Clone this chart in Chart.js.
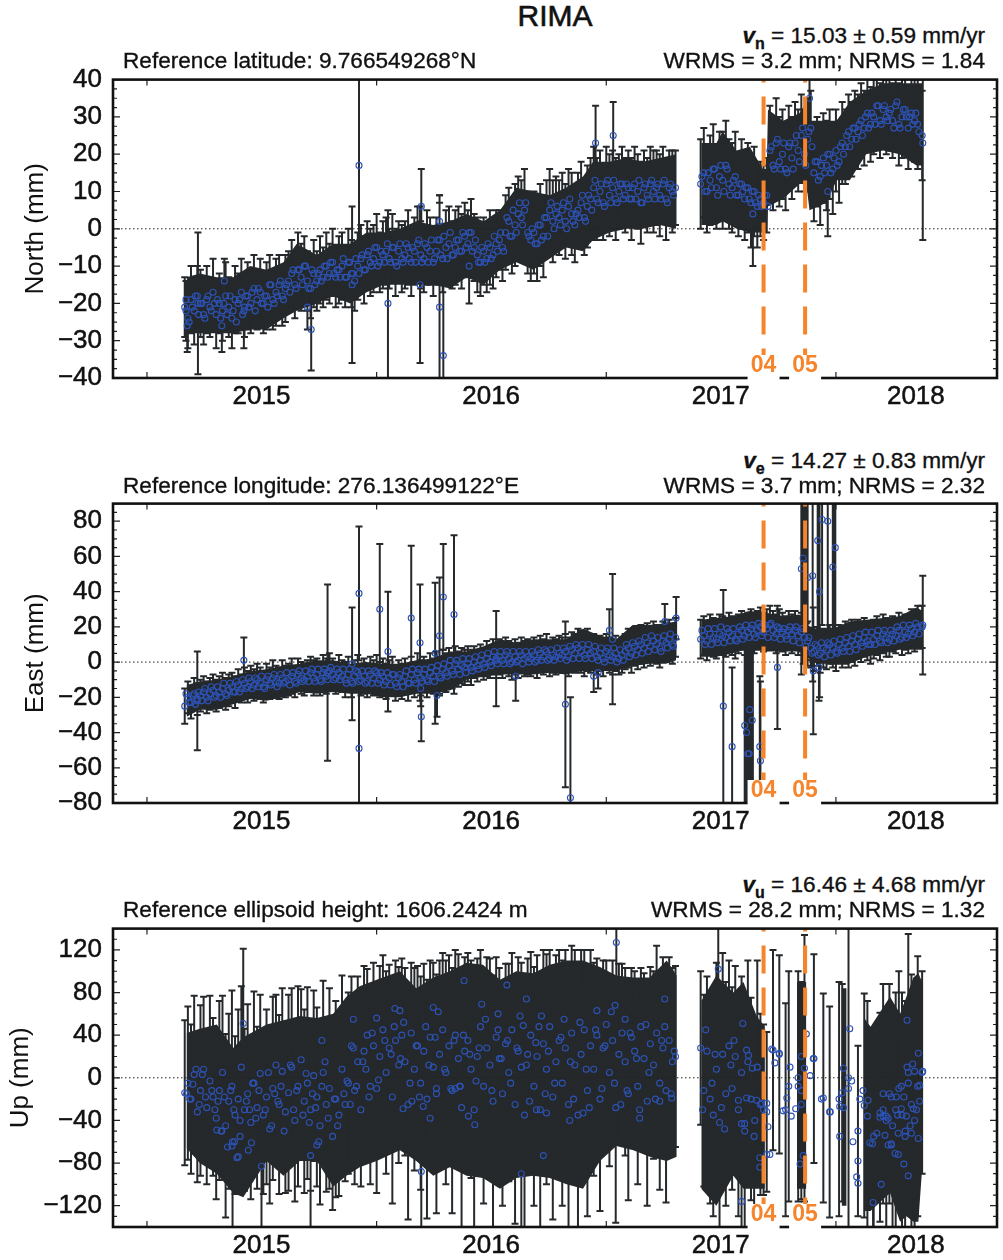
<!DOCTYPE html>
<html>
<head>
<meta charset="utf-8">
<script src="https://cdn.jsdelivr.net/npm/chart.js@4"></script>
<style>
body{margin:0;background:#fff;font-family:"Liberation Sans",Arial,sans-serif;color:#111}
#page{position:relative;width:1003px;height:1260px;overflow:hidden}
canvas{position:absolute;left:0}
.t{position:absolute;font-size:22.6px;white-space:nowrap;-webkit-text-stroke:.35px #111;line-height:24px;z-index:2}
.r{right:18px;text-align:right}
.t sub{font-size:16px;line-height:0;font-weight:bold}
#title{position:absolute;left:0;width:1110px;text-align:center;top:0;font-size:30px;line-height:32px;-webkit-text-stroke:.6px #111}
</style>
</head>
<body>
<div id="page">
<div id="title">RIMA</div>
<div class="t" style="left:123px;top:49px">Reference latitude: 9.766549268°N</div>
<div class="t r" style="top:24px"><i><b>v</b></i><sub>n</sub> = 15.03 ± 0.59 mm/yr</div>
<div class="t r" style="top:49px">WRMS = 3.2 mm; NRMS = 1.84</div>
<div class="t" style="left:123px;top:474px">Reference longitude: 276.136499122°E</div>
<div class="t r" style="top:449px"><i><b>v</b></i><sub>e</sub> = 14.27 ± 0.83 mm/yr</div>
<div class="t r" style="top:474px">WRMS = 3.7 mm; NRMS = 2.32</div>
<div class="t" style="left:123px;top:898px">Reference ellipsoid height: 1606.2424 m</div>
<div class="t r" style="top:873px"><i><b>v</b></i><sub>u</sub> = 16.46 ± 4.68 mm/yr</div>
<div class="t r" style="top:898px">WRMS = 28.2 mm; NRMS = 1.32</div>
<canvas id="north" width="1003" height="358" style="top:53px"></canvas>
<canvas id="east" width="1003" height="359" style="top:477px"></canvas>
<canvas id="up" width="1003" height="358" style="top:902px"></canvas>
</div>
<script>
// x values are days since the 2015 tick
const xMin = -54, xMax = 1351
const yearStarts = [0,365,730,1095]
const yearLabelDays = [182,547,912,1222]
const yearLabels = ['2015','2016','2017','2018']
const eventDays = [980,1046]
const eventLabels = ['04','05']

const northTicks = [-40,-30,-20,-10,0,10,20,30,40]
const eastTicks = [-80,-60,-40,-20,0,20,40,60,80]
const upTicks = [-120,-80,-40,0,40,80,120]

const epochs = [
60,65,70,75,80,85,90,95,100,105,
110,115,120,125,130,135,140,145,150,155,
160,165,170,175,180,185,190,195,200,205,
210,215,220,225,230,235,240,245,250,255,
260,265,270,275,280,285,290,295,300,305,
310,315,320,325,330,335,340,345,350,355,
360,365,370,375,380,385,390,395,400,405,
410,415,420,425,430,435,440,445,450,455,
460,465,470,475,480,485,490,495,500,505,
510,515,520,525,530,535,540,545,550,555,
560,565,570,575,580,585,590,595,600,605,
610,615,620,625,630,635,640,645,650,655,
660,665,670,675,680,685,690,695,700,705,
710,715,720,725,730,735,740,745,750,755,
760,765,770,775,780,785,790,795,800,805,
810,815,820,825,830,835,840,
880,885,890,895,900,905,910,915,920,925,
930,935,940,945,950,955,960,965,970,975,
980,985,990,995,1000,1005,1010,1015,1020,1025,
1030,1035,1040,1045,1050,1055,1060,1065,1070,1075,
1080,1085,1090,1095,1100,1105,1110,1115,1120,1125,
1130,1135,1140,1145,1150,1155,1160,1165,1170,1175,
1180,1185,1190,1195,1200,1205,1210,1215,1220,1225,
1232]

const northVals = [
-21,-24,-19,-22,-18,-20,-23,-19,-21,-17,
-23,-20,-22,-18,-21,-24,-19,-20,-17,-21,
-18,-20,-16,-19,-17,-20,-18,-15,-19,-17,
-15,-18,-16,-14,-12,-15,-11,-13,-10,-14,
-16,-12,-14,-11,-13,-10,-12,-9,-13,-11,
-10,-13,-9,-12,-14,-10,-8,-11,-7,-9,
-8,-5,-9,-7,-6,-8,-5,-9,-6,-8,
-7,-5,-9,-6,-4,-7,-8,-5,-6,-9,
-6,-3,-8,-5,-4,-7,-5,-3,-6,-2,
-4,-1,-5,-7,-9,-6,-8,-5,-7,-4,
-3,-5,-1,2,-2,1,4,3,5,-1,
-3,-1,-4,1,-2,3,5,2,4,3,
5,2,6,4,1,5,7,3,6,8,
11,8,10,7,12,9,11,8,10,12,
9,11,8,12,10,7,11,9,12,10,
11,9,12,8,11,10,11,
12,15,10,13,16,11,14,13,17,12,
11,14,9,12,8,11,7,10,6,8,
7,9,21,17,23,18,20,16,22,19,
23,21,25,20,24,27,15,18,14,19,
17,20,16,21,18,23,22,26,24,27,
26,29,27,31,28,30,33,29,32,30,
31,29,33,28,30,32,27,31,29,28,
25]
const northErrs = [
8,8,9,9,8,9,8,9,8,9,
9,8,8,9,8,8,9,8,9,8,
9,8,9,8,9,8,9,8,8,9,
8,8,9,8,9,9,10,9,8,8,
8,9,8,9,8,9,8,9,8,9,
9,8,9,9,8,9,9,9,9,9,
9,9,8,9,9,8,9,9,8,9,
9,10,9,9,10,9,9,10,9,9,
9,10,9,10,10,9,10,9,10,9,
9,9,9,10,9,9,9,10,9,9,
8,9,10,9,10,11,10,10,11,11,
11,11,10,11,11,10,11,11,10,10,
10,10,10,11,10,10,11,10,11,11,
11,11,11,10,10,11,10,11,10,10,
10,10,11,10,10,11,10,10,10,11,
10,11,10,11,10,11,10,
12,12,11,12,12,11,12,13,12,12,
12,12,11,12,11,12,12,12,11,10,
10,10,12,12,12,12,12,11,11,11,
11,11,11,10,11,10,13,12,13,12,
12,12,12,11,11,11,10,10,10,10,
10,10,10,10,10,10,10,10,10,10,
10,10,10,11,11,11,11,11,11,12,
12]

const eastVals = [
-25,-20,-23,-18,-21,-19,-17,-20,-18,-16,
-19,-17,-15,-18,-16,-14,-17,-13,-15,-12,
-14,-11,-13,-10,-12,-14,-10,-12,-9,-11,
-12,-9,-11,-10,-8,-11,-7,-9,-10,-8,
-6,-9,-7,-10,-6,-8,-5,-7,-9,-6,
-8,-10,-7,-11,-8,-6,-10,-8,-11,-7,
-9,-6,-10,-8,-11,-9,-7,-12,-9,-11,
-8,-12,-7,-10,-6,-9,-7,-10,-6,-8,
-5,-8,-4,-6,-2,-5,-1,-4,-2,-3,
-1,-3,0,-2,1,-1,2,0,3,1,
3,1,4,2,0,3,1,4,2,3,
2,4,1,5,3,6,2,4,3,5,
4,6,3,7,5,8,6,4,7,5,
6,3,5,2,6,4,3,5,2,4,
6,8,5,9,7,10,8,11,9,12,
10,8,12,11,13,10,14,
13,15,12,16,14,13,16,15,14,17,
15,13,16,18,15,17,19,16,18,20,
17,19,21,18,16,19,17,15,18,16,
18,15,17,14,12,8,6,9,5,8,
7,10,8,6,10,8,11,9,12,10,
13,11,14,12,10,13,15,12,16,14,
13,16,15,18,14,17,16,19,17,20,
20]
const eastErrs = [
10,9,9,9,9,9,9,9,9,9,
9,9,9,9,9,8,9,9,8,9,
9,9,9,9,9,9,9,9,10,9,
9,10,9,9,10,9,9,9,9,9,
9,10,9,9,10,10,10,9,9,10,
9,10,10,9,9,10,9,10,9,10,
10,10,10,10,10,10,10,10,10,10,
10,10,10,10,11,10,10,10,11,10,
11,11,11,11,10,10,10,10,10,10,
10,10,9,9,9,9,10,9,10,10,
10,10,10,10,10,10,10,10,10,10,
10,10,10,10,10,10,10,10,10,10,
10,10,11,10,11,11,12,12,12,11,
10,10,10,10,10,10,10,10,9,10,
10,11,11,11,11,11,11,11,11,11,
11,11,11,11,11,11,11,
11,11,11,11,11,11,11,11,11,11,
11,11,11,11,11,11,11,11,11,11,
11,11,11,11,11,11,11,11,11,11,
11,11,11,11,11,11,11,11,11,11,
11,11,11,11,11,11,12,12,12,12,
11,11,11,11,11,11,11,11,11,11,
10,10,10,10,10,10,11,11,11,12,
12]

const upVals = [
-14,-5,-20,3,-32,-12,8,-28,-3,-18,
-38,-12,5,-45,-22,-8,-35,-20,10,-30,
-15,-42,-5,-28,4,-35,-18,-48,-10,12,
-25,6,-32,-14,10,-40,-8,17,-22,-5,
-30,2,-18,-45,5,-25,-10,-55,-20,-35,
8,-25,-5,30,-12,15,-30,25,40,-8,
30,-10,20,45,5,28,-18,35,12,40,
15,-25,42,8,30,-5,25,-20,38,10,
-15,22,45,5,30,-12,40,18,-28,25,
35,8,-30,20,48,-8,28,12,-22,38,
18,-15,32,5,45,-25,25,10,-35,22,
40,-8,20,-30,32,8,48,-18,15,35,
-5,28,-25,42,12,-35,22,45,-12,30,
8,40,-20,28,50,5,35,-28,22,42,
15,-15,38,25,-8,48,18,-22,32,12,
42,-5,28,-12,35,15,20,
28,-12,25,-20,-35,8,-42,22,-15,30,
-10,20,-30,5,-50,15,-20,-55,10,-25,
-30,-32,null,26,null,22,null,-30,-8,null,
null,-8,-12,9,null,null,18,null,null,-19,
null,-32,null,null,-20,-14,null,0,null,null,
-50,null,-26,-36,null,-55,null,-37,-15,-40,
-15,-45,-30,-10,-35,-50,5,-25,-40,-8,
5]
const upErrs = [
68,72,70,74,66,80,68,72,80,74,
76,84,72,86,82,90,74,84,76,76,
84,72,86,76,74,74,82,70,86,66,
84,78,76,92,74,76,94,66,86,90,
76,80,84,74,86,82,94,69,92,76,
88,72,85,65,88,80,72,80,62,92,
78,98,85,70,95,78,100,75,92,72,
88,108,66,95,75,100,82,112,72,98,
112,88,72,105,85,115,80,98,118,88,
82,102,120,92,72,110,85,100,118,75,
85,105,75,102,72,112,88,98,118,90,
78,112,95,122,88,108,72,115,100,85,
115,92,128,82,108,125,98,75,118,90,
100,72,105,82,60,88,75,108,85,65,
88,100,65,75,92,55,80,98,72,88,
82,100,85,105,78,88,85,
72,90,70,98,95,100,110,95,105,80,
95,85,100,90,90,95,95,72,100,85,
80,75,0,94,0,93,0,100,108,0,
0,108,102,125,0,0,98,0,0,98,
0,99,0,0,110,102,0,140,0,0,
80,0,105,108,0,90,0,98,103,105,
103,105,110,110,115,122,130,122,125,122,
95]

// isolated long error bars, read one by one
const northOutDays = [64,62,81,119,123,154,255,261,326,337,383,434,436,465,465,471,512,713,741,963,1053,1082,1233]
const northOutVals = [-26,-22,-20,-26,-14,-22,-21,-27,-15,17,-20,-15,6,-21,2,-34,-10,23,25,4,35,10,23]
const northOutErrs = [7,8,19,7,6,10,6,11,21,30,25,21,10,30,7,19,10,10,9,14,8,12,26]

const eastOutDays = [80,154,287,326,337,337,370,383,420,434,436,435,458,465,471,488,461,555,586,665,673,740,735,710,717,823,841,916,930,950,953,955,957,958,962,975,974,1002,1043,1040,1050,1058,1059,1066,1069,1068,1073,1082,1090,1094,1233]
const eastOutVals = [-22,1,-6,-1,39,-49,30,6,25,11,-31,-15,5,15,37,27,-19,2,-8,-24,-77,13,18,-8,-6,23,25,-25,-48,-36,-40,-52,-52,-27,-33,-56,-48,-3,59,53,48,49,-5,69,40,-3,81,80,54,65,21]
const eastOutErrs = [28,13,50,32,38,40,37,34,41,33,14,10,40,33,30,45,12,27,14,47,57,37,12,9,9,10,12,66,45,55,58,50,55,52,45,45,40,35,60,60,50,60,36,60,60,19,60,65,55,60,28]

// packed bars in the east panel that show as thick black stripes, no circle of their own
const eastThickDays = [951,952,954,956,957,959,960,961,962,963,1042,1044,1046,1048,1091,1092,1093]
const eastThickVals = [-36,-36,-36,-36,-36,-36,-36,-36,-36,-36,62,62,62,62,52,52,52]
const eastThickErrs = [44,44,44,44,44,44,44,44,44,44,40,40,40,40,42,42,42]

const upOutDays = [136,153,182,260,436,595,746,908,945,1154]
const upOutVals = [-60,51,-83,-73,-88,-90,127,102,-116,-117]
const upOutErrs = [85,70,75,75,70,70,60,60,60,60]

// circles only, the panels carry more points than the epoch list
const midEpochs = [
62,67,72,77,82,87,92,97,102,107,
112,117,122,127,132,137,142,147,152,157,
162,167,172,177,182,187,192,197,202,207,
212,217,222,227,232,237,242,247,252,257,
262,267,272,277,282,287,292,297,302,307,
312,317,322,327,332,337,342,347,352,357,
362,367,372,377,382,387,392,397,402,407,
412,417,422,427,432,437,442,447,452,457,
462,467,472,477,482,487,492,497,502,507,
512,517,522,527,532,537,542,547,552,557,
562,567,572,577,582,587,592,597,602,607,
612,617,622,627,632,637,642,647,652,657,
662,667,672,677,682,687,692,697,702,707,
712,717,722,727,732,737,742,747,752,757,
762,767,772,777,782,787,792,797,802,807,
812,817,822,827,832,837,
882,887,892,897,902,907,912,917,922,927,
932,937,942,947,952,957,962,967,972,977,
982,987,992,997,1002,1007,1012,1017,1022,1027,
1032,1037,1042,1047,1052,1057,1062,1067,1072,1077,
1082,1087,1092,1097,1102,1107,1112,1117,1122,1127,
1132,1137,1142,1147,1152,1157,1162,1167,1172,1177,
1182,1187,1192,1197,1202,1207,1212,1217,1222,1227]

const northMidVals = [
-19,-25,-21,-18,-23,-20,-24,-18,-22,-20,
-19,-24,-20,-23,-18,-22,-25,-19,-23,-18,
-21,-17,-22,-16,-20,-18,-21,-15,-20,-18,
-14,-19,-15,-17,-11,-16,-11,-15,-10,-16,
-11,-15,-12,-14,-10,-13,-9,-12,-11,-13,
-8,-13,-9,-12,-8,-12,-7,-11,-6,-10,
-5,-10,-6,-9,-4,-9,-5,-10,-4,-9,
-4,-8,-5,-9,-3,-9,-4,-9,-3,-8,
-3,-7,-2,-8,-1,-7,-3,-6,-1,-5,
-1,-6,-3,-9,-5,-9,-4,-8,-2,-6,
-1,-6,3,-2,5,-1,7,1,7,-2,
0,-4,1,-3,3,-2,7,0,6,1,
7,0,8,2,4,3,9,2,9,5,
13,7,12,6,13,7,13,7,12,8,
12,8,11,8,13,7,12,8,13,8,
12,8,13,7,12,9,
14,10,15,11,16,9,17,10,16,9,
13,9,12,10,11,8,10,7,9,6,
9,6,22,16,24,16,23,15,23,16,
25,18,27,17,26,22,18,13,17,15,
20,15,19,17,22,20,25,22,27,24,
28,25,30,27,31,28,33,28,33,29,
32,27,34,27,32,30,30,28,31,26]

const eastMidVals = [
-18,-23,-19,-24,-17,-22,-15,-22,-14,-20,
-14,-20,-12,-19,-12,-17,-11,-17,-10,-15,
-9,-15,-9,-14,-8,-15,-8,-13,-7,-14,
-7,-12,-6,-13,-6,-12,-5,-11,-5,-11,
-4,-11,-4,-11,-4,-10,-3,-10,-4,-10,
-4,-12,-4,-12,-5,-11,-5,-12,-5,-12,
-5,-12,-6,-13,-6,-13,-7,-14,-7,-14,
-5,-12,-4,-12,-4,-11,-4,-11,-3,-11,
-2,-9,-1,-8,1,-7,1,-7,2,-6,
2,-5,3,-4,4,-3,5,-2,6,-1,
6,-1,6,-1,6,0,6,-1,6,0,
6,0,7,1,7,1,7,1,8,2,
8,1,9,2,10,2,10,2,10,2,
9,1,8,0,8,1,8,0,7,1,
10,3,11,4,12,5,14,6,15,7,
14,6,15,8,16,9,
18,10,19,10,19,11,20,11,19,12,
19,12,20,13,21,14,21,14,22,15,
21,14,22,14,20,13,19,13,20,12,
20,11,19,9,14,5,10,4,11,3,
11,4,12,5,13,6,14,6,15,7,
16,9,17,10,17,10,18,11,18,11,
18,12,20,13,21,14,21,15,22,16]

const upExtraDays = [
63,68,73,78,83,88,93,103,108,113,118,123,128,133,138,143,148,158,163,168,
173,178,188,193,198,203,208,213,218,228,233,238,248,253,258,263,268,273,278,283,
288,298,303,313,318,323,328,333,343,348,353,358,368,378,388,393,403,408,418,428,
433,443,448,458,463,473,483,488,498,503,513,523,528,538,548,558,563,573,578,588,
593,603,608,618,623,633,638,648,658,663,673,678,688,698,703,713,723,728,738,743,
753,763,768,778,783,793,798,808,818,823,833,838,883,888,898,903,913,918,928,933,
1178,1183,1193,1203,1208,1213,1223,1228,
145,148,135,139,161,166,111,119,270,278,328,365,394,402,455,504,532,558,572,603,
715,744,760,823,627,598,619,635,672,693,783,815,834,630,407,421,439,450,460,490,511,521,497,
947,953,956,962,953,940,969,977,985,966,950,945,987,974,985,990,974,993,1005,998,
1022,1035,1054,1059,1040,1048,1017,1011,1024,1031,1040,1038,1043,1072,1086,1101,1107,1101,1107,1117,
1122,1115,1120,1130,1128,1130,1138,1133,1146,1149,1153,1160,1165,1170,1170,1175,1173,1178,1183,1189,
1194,1203,1210,1167,1183,1191,1199,1210,1217,1220,1226,1208,1228,1226,1199,1218,1207,1194,1205,1215,1233]
const upExtraVals = [
-15,-20,-6,8,-25,3,-18,-12,-30,-22,-50,-18,-65,-12,-30,-75,-40,-22,-30,-5,
-38,-12,-30,5,-45,-15,-22,-8,-50,12,-30,-12,-35,4,-42,-15,-28,-60,-8,15,
-38,-20,-45,-15,-3,-25,28,-8,15,8,-18,42,-2,35,22,48,18,52,-5,30,
-18,48,12,38,62,8,-10,35,-8,40,22,-3,28,55,-12,45,18,35,-5,28,
58,12,-22,33,48,-15,25,-5,38,55,15,-20,52,8,-28,45,-10,30,62,-5,
-25,-12,42,18,-30,50,5,-20,35,48,-15,25,-30,45,-5,22,-28,-48,12,35,
-38,-62,-35,-18,10,-45,-30,-22,
-74,-55,-64,-60,-68,-61,-49,-50,-63,35,55,56,65,63,66,91,69,60,87,74,
63,68,55,74,58,49,-30,-33,-40,-33,-38,-22,-19,-73,-29,-22,-27,-38,-10,-10,-36,-44,-8,
51,26,21,9,-19,-21,-21,-24,-24,-40,-43,-43,-46,-75,-72,-72,-84,27,23,14,
10,0,2,18,20,41,-19,-31,-36,-29,-25,-81,-73,-20,-32,-27,-28,-55,9,46,
-60,-10,-3,-78,-93,-99,-12,-20,-21,-61,-62,-52,-33,-36,-30,-36,-54,-63,-63,-71,
-72,-81,-92,-100,-18,-18,-8,-5,13,6,23,54,-7,-57,-29,-29,-36,-52,-55,-52,6]

// hand read outline of the solid dark band, null where it breaks
const northBandDays = [63,84,111,137,164,190,217,238,270,296,323,349,376,402,428,455,482,508,535,561,587,614,640,666,693,709,735,762,788,815,841,860,881,905,915,937,958,979,985,987,1011,1037,1048,1053,1080,1096,1117,1143,1170,1196,1223,1233]
const northBandTop = [-13,-12,-13,-13,-10,-11,-9,-4,-7,-4,-4,-1,-1,0,2,1,2,4,2,5,11,10,9,11,14,18,18,19,18,19,20,null,23,23,26,21,22,16,16,32,29,31,34,29,29,29,34,37,39,39,39,39]
const northBandBot = [-28,-28,-28,-28,-27,-27,-24,-22,-20,-18,-20,-17,-15,-15,-15,-15,-16,-13,-15,-11,-9,-11,-8,-5,-6,-3,-1,0,0,1,0,null,1,1,2,0,-1,-1,-1,6,8,12,12,5,7,13,13,20,21,20,17,17]

const eastBandDays = [63,84,111,137,164,190,217,243,270,296,323,349,376,402,428,455,482,508,535,561,587,614,640,666,693,720,746,772,799,825,841,860,881,905,931,958,984,1011,1037,1048,1064,1090,1117,1143,1170,1196,1223,1233]
const eastBandTop = [-13,-11,-10,-8,-5,-4,-2,-1,1,1,-1,0,-1,-1,1,2,6,6,9,13,11,13,13,13,19,15,13,21,21,22,23,null,24,25,26,29,28,26,27,21,19,19,23,24,25,26,31,29]
const eastBandBot = [-31,-27,-27,-24,-21,-22,-20,-17,-18,-17,-18,-18,-20,-20,-18,-18,-16,-10,-8,-7,-7,-7,-6,-7,-5,-5,-5,-2,-1,-1,1,null,3,3,5,8,6,6,6,3,-1,-1,-1,3,5,7,7,7]

const upBandDays = [63,84,111,137,153,190,217,243,270,296,317,338,365,402,428,455,481,508,534,561,587,614,640,667,693,720,746,773,799,826,842,860,881,905,932,948,969,982,986,1033,1048,1050,1104,1112,1125,1140,1150,1181,1197,1207,1218,1226,1232]
const upBandTop = [42,46,50,28,38,50,54,58,56,60,76,86,92,100,84,94,100,108,106,92,100,98,106,110,110,104,96,94,94,110,96,null,72,96,80,90,58,48,null,90,90,null,84,84,null,56,48,76,60,76,94,98,90]
const upBandBot = [-66,-80,-90,-108,-112,-78,-92,-78,-78,-102,-92,-84,-78,-68,-78,-92,-84,-92,-94,-104,-94,-92,-94,-100,-104,-78,-64,-68,-74,-78,-74,null,-104,-120,-92,-104,-104,-104,null,-104,-104,null,-120,-120,null,-125,-125,-108,-135,-130,-135,-135,-85]

const darkBar = '#25292b'
const blueMark = '#2c52b5'
const orangeMark = '#f5842b'

// inward ticks, frame and the white boxes with event numbers
const panelFrame = {
  id: 'panelFrame',
  afterDatasetsDraw(chart, args, opts) {
    const ctx = chart.ctx
    const a = chart.chartArea
    const xs = chart.scales.x
    const ys = chart.scales.y
    ctx.save()
    ctx.strokeStyle = '#222'
    ctx.lineWidth = 1.2
    ctx.beginPath()
    yearStarts.forEach(d => {
      const px = xs.getPixelForValue(d)
      ctx.moveTo(px, a.top); ctx.lineTo(px, a.top + 6)
      ctx.moveTo(px, a.bottom); ctx.lineTo(px, a.bottom - 6)
    })
    for (let v = opts.minY; v <= opts.maxY; v += opts.minorStep) {
      const py = ys.getPixelForValue(v)
      const len = opts.ticks.includes(v) ? 7 : 4
      ctx.moveTo(a.left, py); ctx.lineTo(a.left + len, py)
      ctx.moveTo(a.right, py); ctx.lineTo(a.right - len, py)
    }
    ctx.stroke()
    ctx.strokeStyle = '#111'
    ctx.lineWidth = 2.6
    ctx.strokeRect(a.left, a.top, a.right - a.left, a.bottom - a.top)
    ctx.font = 'bold 23px "Liberation Sans"'
    ctx.textAlign = 'center'
    ctx.textBaseline = 'middle'
    eventDays.forEach((d, i) => {
      const px = xs.getPixelForValue(d)
      ctx.fillStyle = '#fff'
      ctx.fillRect(px - 16, a.bottom - 23, 32, 25)
      ctx.fillStyle = orangeMark
      ctx.fillText(eventLabels[i], px, a.bottom - 12)
    })
    ctx.restore()
  }
}

function barPoints(days, vals, errs) {
  const out = []
  days.forEach((d, i) => {
    if (vals[i] === null) return
    out.push({x: d, y: vals[i] - errs[i]}, {x: d, y: vals[i] + errs[i]}, {x: d, y: null})
  })
  return out
}

function circlePoints(days, vals) {
  return days.map((d, i) => ({x: d, y: vals[i]})).filter(p => p.y !== null)
}

function makePanel(id, cfg) {
  const eventSets = eventDays.map(d => ({
    data: [{x: d, y: cfg.maxY}, {x: d, y: cfg.minY}],
    borderColor: orangeMark, borderWidth: 4, borderDash: [28, 14], borderDashOffset: 25,
    pointRadius: 0, borderCapStyle: 'butt'
  }))
  return new Chart(document.getElementById(id), {
    type: 'line',
    data: {
      datasets: [
        ...eventSets,
        {
          data: circlePoints(epochs, cfg.vals).concat(circlePoints(cfg.outDays, cfg.outVals), circlePoints(cfg.extraDays, cfg.extraVals)),
          showLine: false, pointStyle: 'circle', pointRadius: 3,
          pointBackgroundColor: 'rgba(0,0,0,0)', pointBorderColor: blueMark, pointBorderWidth: 1.1
        },
        {
          data: [{x: xMin, y: 0}, {x: xMax, y: 0}],
          borderColor: '#222', borderWidth: 1, borderDash: [1.5, 2.5], pointRadius: 0
        },
        {
          data: barPoints(epochs, cfg.vals, cfg.errs).concat(barPoints(cfg.outDays, cfg.outVals, cfg.outErrs), barPoints(cfg.thickDays, cfg.thickVals, cfg.thickErrs)),
          borderColor: darkBar, borderWidth: 2, pointStyle: 'line', pointRadius: 3.5,
          pointBorderColor: darkBar, pointBorderWidth: 2, spanGaps: false
        },
        {
          data: cfg.bandDays.map((d, i) => ({x: d, y: cfg.bandTop[i]})),
          borderWidth: 0, pointRadius: 0, fill: '+1', backgroundColor: darkBar, spanGaps: false
        },
        {
          data: cfg.bandDays.map((d, i) => ({x: d, y: cfg.bandBot[i]})),
          borderWidth: 0, pointRadius: 0, fill: false, spanGaps: false
        }
      ]
    },
    plugins: [panelFrame],
    options: {
      responsive: false,
      animation: false,
      layout: {padding: {top: 0, right: 6, left: 0, bottom: 0}},
      plugins: {
        legend: {display: false},
        tooltip: {enabled: false},
        panelFrame: {minY: cfg.minY, maxY: cfg.maxY, minorStep: cfg.minorStep, ticks: cfg.ticks}
      },
      scales: {
        x: {
          type: 'linear', min: xMin, max: xMax,
          grid: {display: false, drawTicks: false}, border: {display: false},
          afterBuildTicks: s => { s.ticks = yearLabelDays.map(v => ({value: v})) },
          afterFit: s => { s.height = 33 },
          ticks: {
            autoSkip: false, maxRotation: 0, padding: 3, color: '#111',
            textStrokeColor: '#111', textStrokeWidth: .5,
            font: {family: 'Liberation Sans', size: 26},
            callback: (v, i) => yearLabels[i]
          }
        },
        y: {
          min: cfg.minY, max: cfg.maxY,
          grid: {display: false, drawTicks: false}, border: {display: false},
          afterBuildTicks: s => { s.ticks = cfg.ticks.map(v => ({value: v})) },
          afterFit: s => { s.width = 113 },
          title: {display: true, text: cfg.title, color: '#111', font: {family: 'Liberation Sans', size: 26}, padding: {top: cfg.titlePad, bottom: 0}},
          ticks: {
            autoSkip: false, padding: 11, color: '#111',
            textStrokeColor: '#111', textStrokeWidth: .5,
            font: {family: 'Liberation Sans', size: 26},
            callback: v => v < 0 ? '\u2212' + Math.abs(v) : String(v)
          }
        }
      }
    }
  })
}

const northChart = makePanel('north', {
  title: 'North (mm)', titlePad: 20, minY: -40, maxY: 40, minorStep: 2.5, ticks: northTicks,
  vals: northVals, errs: northErrs, outDays: northOutDays, outVals: northOutVals, outErrs: northOutErrs,
  thickDays: [], thickVals: [], thickErrs: [],
  extraDays: midEpochs, extraVals: northMidVals, bandDays: northBandDays, bandTop: northBandTop, bandBot: northBandBot
})

const eastChart = makePanel('east', {
  title: 'East (mm)', titlePad: 20, minY: -80, maxY: 90, minorStep: 5, ticks: eastTicks,
  vals: eastVals, errs: eastErrs, outDays: eastOutDays, outVals: eastOutVals, outErrs: eastOutErrs,
  thickDays: eastThickDays, thickVals: eastThickVals, thickErrs: eastThickErrs,
  extraDays: midEpochs, extraVals: eastMidVals, bandDays: eastBandDays, bandTop: eastBandTop, bandBot: eastBandBot
})

const upChart = makePanel('up', {
  title: 'Up (mm)', titlePad: 5, minY: -140, maxY: 140, minorStep: 10, ticks: upTicks,
  vals: upVals, errs: upErrs, outDays: upOutDays, outVals: upOutVals, outErrs: upOutErrs,
  thickDays: [], thickVals: [], thickErrs: [],
  extraDays: upExtraDays, extraVals: upExtraVals, bandDays: upBandDays, bandTop: upBandTop, bandBot: upBandBot
})
</script>
</body>
</html>
